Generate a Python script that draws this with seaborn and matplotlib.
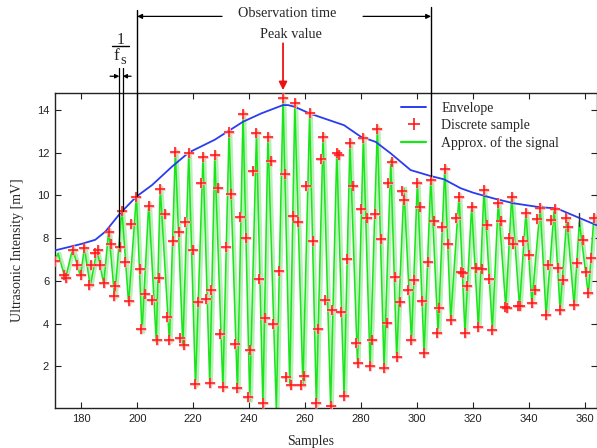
import matplotlib
matplotlib.use("Agg")
import matplotlib.pyplot as plt
import matplotlib.transforms as mtransforms
from matplotlib.lines import Line2D
import seaborn as sns

# ---------------- data ----------------
env_x = [170.5, 180.2, 185.0, 188.6, 193.9, 199.7, 205.3, 212.4, 218.4, 227.7,
         237.8, 244.3, 252.1, 253.9, 256.3, 261.6, 266.7, 273.9, 279.9, 285.2,
         290.6, 297.7, 304.9, 309.6, 315.6, 320.1, 327.2, 334.4, 344.0, 349.9,
         358.2, 364.2]
env_y = [7.42, 7.73, 7.92, 8.30, 9.16, 9.94, 10.48, 11.34, 12.00, 12.60,
         13.44, 13.83, 14.22, 14.22, 14.14, 13.83, 13.60, 13.28, 12.74, 12.50,
         11.96, 11.18, 10.90, 10.75, 10.33, 10.12, 9.86, 9.63, 9.44, 9.39,
         8.93, 8.60]

# approximation of the signal (turning points of the green trace)
sig_x = [170.5, 171.7, 174.3, 176.9, 179.7, 181.1, 183.2, 185.6, 188.0, 189.8,
         191.9, 194.5, 196.9, 199.7, 201.7, 204.1, 206.8, 208.2, 211.5, 213.6,
         216.3, 218.4, 220.8, 223.5, 225.9, 227.7, 230.6, 232.8, 235.8, 237.8,
         240.2, 242.6, 244.9, 246.7, 249.7, 252.1, 254.5, 256.3, 259.2, 261.6,
         264.0, 266.4, 269.1, 271.3, 273.9, 276.0, 278.7, 280.8, 283.2, 285.8,
         288.2, 290.6, 292.7, 295.3, 298.0, 300.1, 302.5, 304.9, 307.5, 309.9,
         312.0, 315.0, 317.1, 319.5, 321.9, 323.9, 326.9, 329.0, 331.7, 333.8,
         336.6, 338.9, 341.0, 344.0, 346.1, 349.0, 351.1, 353.5, 356.1, 358.0,
         361.2, 363.2]
sig_y = [6.90, 7.29, 6.08, 7.51, 6.20, 7.57, 5.74, 7.45, 5.86, 8.38,
         5.19, 9.35, 4.93, 10.00, 3.59, 9.63, 3.12, 10.37, 3.12, 12.07,
         2.90, 12.04, 1.07, 11.84, 1.15, 11.93, 0.94, 13.02, 0.83, 13.86,
         0.37, 12.97, 0.17, 12.82, -0.05, 14.58, 1.04, 14.33, 1.07, 13.86,
         0.17, 12.82, 0.13, 12.04, 0.60, 12.51, 2.13, 12.74, 2.00, 13.17,
         1.88, 11.65, 2.39, 10.33, 3.17, 10.64, 2.59, 10.84, 3.53, 11.31,
         4.15, 10.02, 3.56, 9.50, 3.79, 10.28, 3.71, 9.70, 4.73, 9.97,
         4.77, 9.24, 4.93, 9.47, 4.37, 9.39, 4.62, 8.93, 4.83, 8.77,
         5.35, 9.00]

# discrete samples (red crosses)
smp_x = [170.7, 173.7, 174.5, 176.9, 178.5, 180.0, 181.1, 182.9, 183.6, 185.0,
         186.0, 186.8, 188.0, 189.8, 190.7, 191.6, 192.2, 194.0, 194.5, 195.5,
         196.9, 197.9, 199.7, 201.1, 201.5, 202.6, 204.1, 205.3, 207.1, 207.9,
         208.2, 209.8, 210.6, 211.5, 212.7, 213.6, 214.8, 215.4, 216.6, 217.2,
         218.4,
         219.9, 220.8, 221.7, 222.9, 223.5, 224.7, 225.9, 226.5, 227.7, 228.9,
         229.7, 230.6, 231.8, 232.8, 233.6, 234.8, 235.8, 236.6, 237.8, 239.0,
         239.6, 240.2, 241.4, 242.6, 243.5, 244.9, 245.5, 246.7, 247.9, 248.5,
         250.5, 252.1, 252.7, 253.3, 254.8, 255.7, 256.3, 257.4, 258.6, 259.6,
         260.4, 261.6, 262.8, 264.0, 264.6, 265.8, 266.4, 267.0,
         269.1, 269.7, 271.3, 272.1, 272.9, 273.9, 274.8, 276.0, 277.2, 278.1,
         278.9, 279.8, 280.8, 282.0, 283.2, 284.0, 284.8, 285.8, 287.0, 288.2,
         289.1, 289.6, 290.9, 292.0, 292.7, 293.9, 294.7, 295.3, 296.8, 298.0,
         298.9, 300.1, 300.9, 301.6, 302.5, 303.9, 304.9, 306.1, 307.2, 307.8,
         309.0, 309.9, 311.1, 312.0, 313.8, 315.0, 315.6,
         316.3, 317.1, 318.0, 319.5, 323.9, 321.1, 321.9, 323.1, 324.9, 325.8,
         326.9, 329.0, 329.9, 331.4, 332.0, 333.0, 333.8, 334.4, 336.2, 336.8,
         337.7, 338.9, 340.1, 341.0, 342.2, 343.0, 344.0, 346.1, 346.9, 347.8,
         349.3, 350.5, 351.1, 352.3, 353.2, 354.1, 356.1, 357.0, 359.2, 360.4,
         361.2, 362.2, 363.2]
smp_y = [6.95, 6.28, 6.13, 7.45, 6.75, 6.28, 7.53, 5.81, 6.75, 7.29,
         7.42, 6.75, 5.92, 8.30, 7.71, 5.27, 5.74, 7.60, 9.28, 6.86,
         5.04, 8.65, 9.94, 6.56, 3.75, 5.39, 9.50, 5.11, 3.25, 6.13,
         10.30, 9.13, 4.31, 3.25, 7.84, 12.01, 8.30, 3.33, 3.01, 8.77,
         11.99,
         7.45, 1.18, 4.99, 10.59, 11.81, 5.15, 1.22, 5.55, 11.88, 10.33,
         3.51, 1.02, 7.56, 12.97, 10.06, 3.06, 0.99, 8.97, 13.80, 7.99,
         0.55, 2.78, 11.15, 12.93, 6.08, 0.29, 4.26, 12.74, 11.62, 3.98,
         6.47, 14.53, 10.99, 1.50, 1.14, 9.04, 14.30, 8.77, 1.14, 1.57,
         10.44, 13.83, 7.84, 0.29, 3.74, 11.68, 12.74, 5.08,
         0.13, 4.65, 11.96, 11.88, 4.52, 0.63, 7.01, 12.43, 10.44, 3.09,
         2.16, 9.35, 12.69, 8.93, 2.03, 3.22, 9.13, 13.08, 7.96, 1.92,
         4.03, 10.56, 11.57, 6.20, 2.44, 5.02, 10.22, 9.78, 5.58, 3.22,
         6.02, 10.59, 9.44, 5.07, 2.63, 6.87, 10.72, 8.80, 3.56, 4.73,
         8.54, 11.23, 7.73, 4.18, 8.93, 9.94, 6.39,
         6.36, 3.56, 5.74, 9.44, 10.25, 6.59, 3.84, 6.55, 8.62, 6.08,
         3.71, 9.66, 8.82, 4.77, 4.73, 7.99, 9.94, 7.73, 4.80, 4.80,
         7.84, 9.19, 7.21, 4.96, 5.58, 8.88, 9.39, 4.42, 6.75, 8.85,
         9.35, 6.59, 4.65, 6.02, 8.93, 8.54, 4.88, 6.83, 7.92, 6.39,
         5.43, 7.06, 8.93]

x_ticks = [180, 200, 220, 240, 260, 280, 300, 320, 340, 360]
y_ticks = [2, 4, 6, 8, 10, 12, 14]

legend_labels = ["Envelope", "Discrete sample", "Approx. of the signal"]

# ---------------- figure ----------------
sns.set_style("ticks")
plt.rcParams["font.family"] = ["Liberation Serif", "DejaVu Serif"]
plt.rcParams["mathtext.fontset"] = "stix"

W, H = 597, 448
fig = plt.figure(figsize=(W / 100, H / 100), dpi=100)
ax = fig.add_axes([54.7 / W, 1 - 408 / H, 542 / W, 315.3 / H])

GREEN = "#19e619"
PALE = "#b8f0b8"
BLUE = "#2a3cf0"
RED = "#ff1a1a"

pale_tr = mtransforms.offset_copy(ax.transData, fig=fig, x=1.6, y=0, units="dots")
sns.lineplot(x=sig_x, y=sig_y, ax=ax, color=PALE, lw=2.4, sort=False,
             transform=pale_tr, zorder=1)
sns.lineplot(x=sig_x, y=sig_y, ax=ax, color=GREEN, lw=1.1, sort=False, zorder=2)
sns.lineplot(x=env_x, y=env_y, ax=ax, color=BLUE, lw=1.3, sort=False, zorder=3)
sns.scatterplot(x=smp_x, y=smp_y, ax=ax, marker="+", s=60, color="#ffb4b4",
                linewidth=2.0, zorder=4)
sns.scatterplot(x=smp_x, y=smp_y, ax=ax, marker="+", s=48, color=RED,
                linewidth=1.1, zorder=5)

ax.set_xlim(170.5, 364.2)
ax.set_ylim(0.05, 14.8)
ax.set_xticks(x_ticks)
ax.set_yticks(y_ticks)
ax.tick_params(direction="in", length=4, width=0.8, top=True, right=True,
               labelsize=8, pad=4, colors="#222222")
for lab in ax.get_xticklabels() + ax.get_yticklabels():
    lab.set_fontfamily("Liberation Sans")
for sp in ax.spines.values():
    sp.set_visible(True)
    sp.set_linewidth(1.0)
    sp.set_color("#222222")

ax.set_xlabel("Samples", fontsize=10)
ax.xaxis.set_label_coords(0.473, -0.085)
ax.set_ylabel("Ultrasonic Intensity [mV]", fontsize=10)
ax.yaxis.set_label_coords(-0.056, 0.5)

handles = [Line2D([], [], color=BLUE, lw=1.4),
           Line2D([], [], color=RED, marker="+", ls="none", ms=8, mew=1.2),
           Line2D([], [], color=GREEN, lw=1.6)]
ax.legend(handles, legend_labels, loc="upper left", bbox_to_anchor=(0.639, 0.972),
          frameon=False, fontsize=10, handlelength=1.8, handletextpad=1.1,
          labelspacing=0.32, borderpad=0, borderaxespad=0)

# ---------------- annotations above the axes ----------------
kw = dict(annotation_clip=False)
line_kw = dict(color="black", lw=1.0, clip_on=False, zorder=6)
# observation window
ax.plot([200, 200], [9.95, 18.65], **line_kw)
ax.plot([305, 305], [10.9, 18.79], **line_kw)
ax.annotate("", xy=(200, 18.37), xytext=(230.3, 18.37),
            arrowprops=dict(arrowstyle="-|>", color="black", lw=0.9,
                            mutation_scale=7, shrinkA=0, shrinkB=0), **kw)
ax.annotate("", xy=(305, 18.37), xytext=(280.7, 18.37),
            arrowprops=dict(arrowstyle="-|>", color="black", lw=0.9,
                            mutation_scale=7, shrinkA=0, shrinkB=0), **kw)
ax.text(253.5, 18.51, "Observation time", ha="center", va="center",
        fontsize=10.3, clip_on=False)
ax.text(254.9, 17.53, "Peak value", ha="center", va="center",
        fontsize=10.3, clip_on=False)
ax.annotate("", xy=(252.1, 14.92), xytext=(252.1, 17.11),
            arrowprops=dict(arrowstyle="-|>", color="#ee1111", lw=1.3,
                            mutation_scale=12, shrinkA=0, shrinkB=0), **kw)
# sampling period 1/fs
ax.plot([193.6, 193.6], [7.6, 15.94], lw=0.9, color="black", clip_on=False, zorder=6)
ax.plot([194.8, 194.8], [9.28, 15.94], lw=0.9, color="black", clip_on=False, zorder=6)
ax.annotate("", xy=(193.6, 15.57), xytext=(190.3, 15.57),
            arrowprops=dict(arrowstyle="-|>", color="black", lw=0.9,
                            mutation_scale=6, shrinkA=0, shrinkB=0), **kw)
ax.annotate("", xy=(194.8, 15.57), xytext=(197.8, 15.57),
            arrowprops=dict(arrowstyle="-|>", color="black", lw=0.9,
                            mutation_scale=6, shrinkA=0, shrinkB=0), **kw)
ax.plot([358.0, 358.0], [8.55, 9.15], lw=1.0, color="#333333", zorder=6)

fig.text(120.5 / W, 1 - 39.5 / H, "1", ha="center", va="center", fontsize=11.5)
fig.add_artist(Line2D([112 / W, 128.5 / W], [1 - 45.7 / H] * 2, color="black", lw=1.0))
fig.text(116.5 / W, 1 - 56 / H, "f", ha="center", va="center", fontsize=12.5)
fig.text(123.5 / W, 1 - 60 / H, "s", ha="center", va="center", fontsize=10.5)

fig.savefig("out.png", dpi=100)
